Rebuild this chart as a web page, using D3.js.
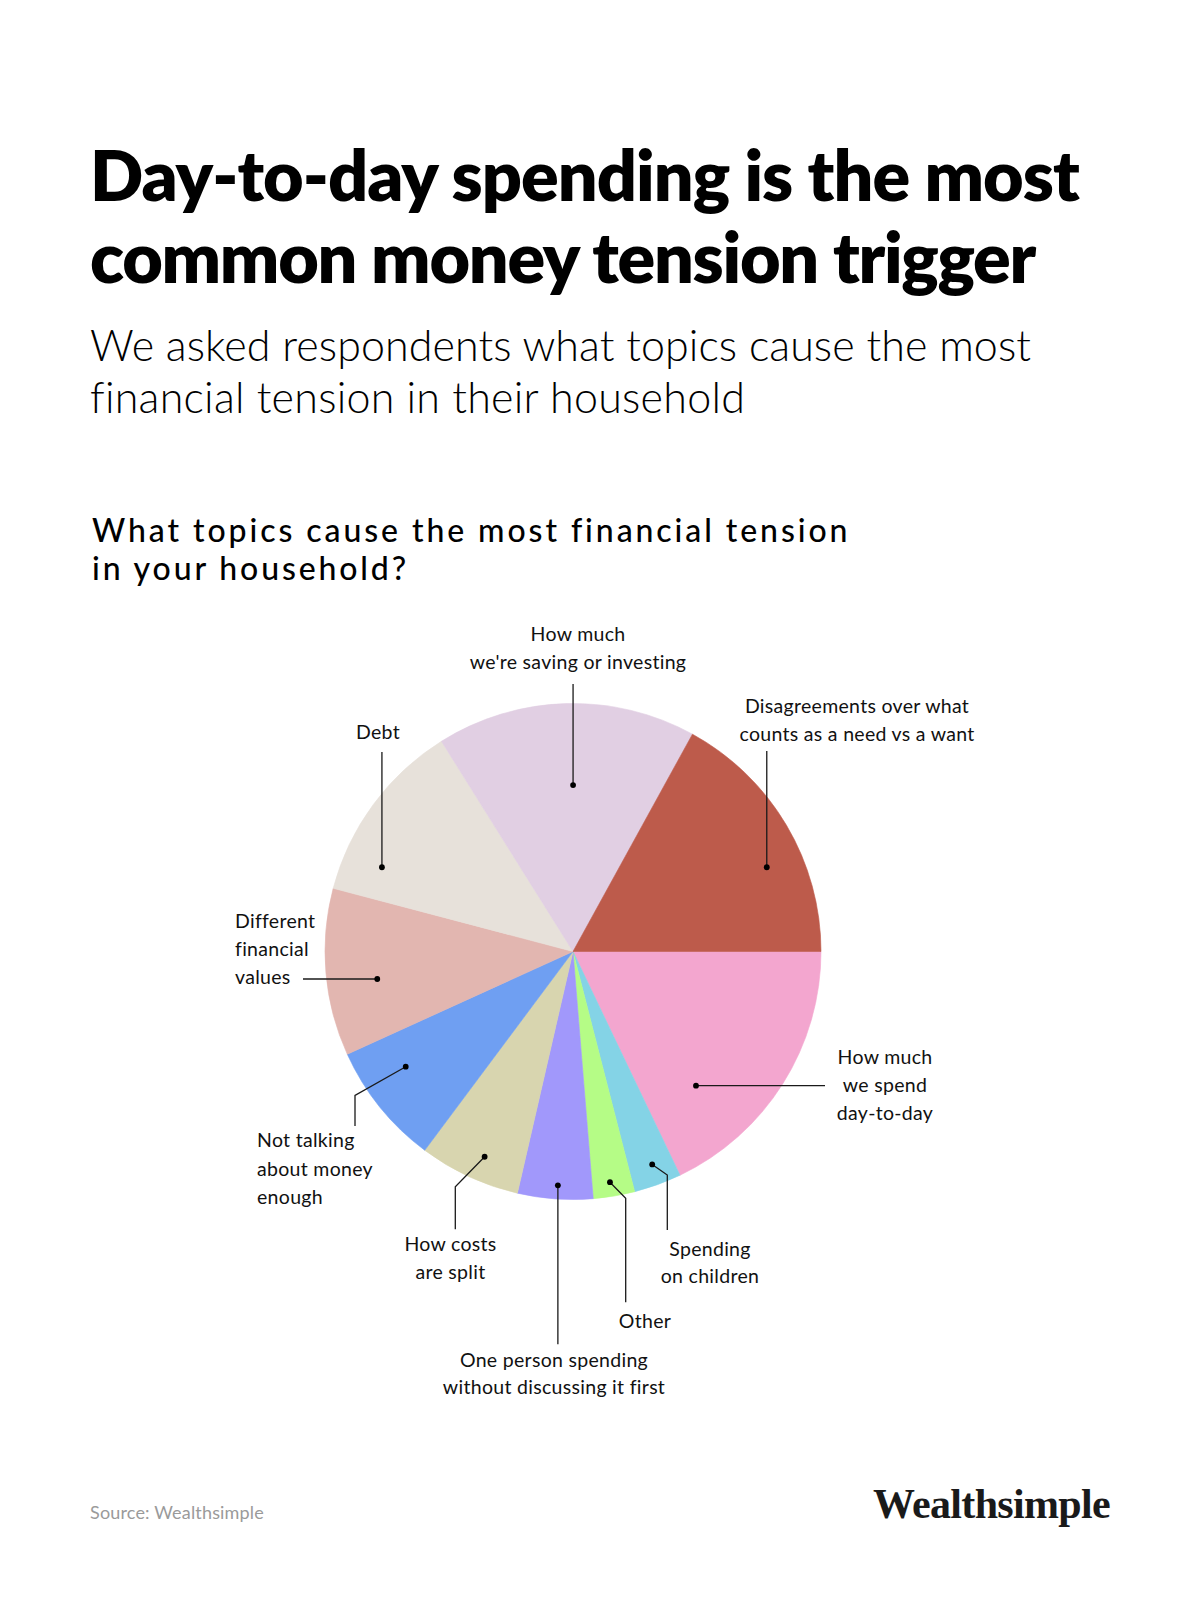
<!DOCTYPE html>
<html>
<head>
<meta charset="utf-8">
<script src="https://cdn.jsdelivr.net/npm/d3@7"></script>
<style>
  body { margin: 0; background: #fff; }
  text { font-family: Lato, "Noto Sans", sans-serif; }
  text.brand { font-family: "Liberation Serif", "DejaVu Serif", serif; }
</style>
</head>
<body>
<svg id="chart"></svg>
<script>
// ---- data (percent of respondents) ----
const categories = [
  "day", "children", "other", "onePerson", "costs",
  "notTalking", "values", "debt", "saving", "disagree"
];
const shares = [17.9, 3.1, 2.7, 4.9, 6.6, 8.0, 10.9, 12.0, 16.9, 17.0];
const labelLines = [
  ["How much", "we spend", "day-to-day"],
  ["Spending", "on children"],
  ["Other"],
  ["One person spending", "without discussing it first"],
  ["How costs", "are split"],
  ["Not talking", "about money", "enough"],
  ["Different", "financial", "values"],
  ["Debt"],
  ["How much", "we're saving or investing"],
  ["Disagreements over what", "counts as a need vs a want"]
];
const titleLines = ["Day-to-day spending is the most", "common money tension trigger"];
const subtitleLines = ["We asked respondents what topics cause the most", "financial tension in their household"];
const chartTitleLines = ["What topics cause the most financial tension", "in your household?"];
const sourceText = "Source: Wealthsimple";
const brandText = "Wealthsimple";

const palette = [
  "#f3a6cf", "#84d3e6", "#b5fc86", "#a198fb", "#d8d5af",
  "#6f9ff2", "#e2b6b0", "#e7e1da", "#e1cfe3", "#bd5b4b"
];

// ---- layout ----
const W = 1200, H = 1599;
const cx = 573, cy = 951.5, R = 248;

// where each callout dot sits inside its slice (t = fraction of the slice angle,
// rf = fraction of the radius) and how its leader runs to the label (relative to centre)
const callouts = {
  day:        { t: 0.737, rf: 0.734, route: "h", end: 252,  anchor: "middle", lx: 312,  ly: [112.5, 140.5, 168.5] },
  children:   { t: 0.462, rf: 0.916, route: "e", elbow: [94.3, 223.5], end: 278.5, anchor: "middle", lx: 137, ly: [304.5, 331.5] },
  other:      { t: 0.545, rf: 0.942, route: "e", elbow: [52.7, 246.8], end: 350.8, anchor: "middle", lx: 72, ly: [376.8] },
  onePerson:  { t: 0.475, rf: 0.945, route: "v", end: 392.8, anchor: "middle", lx: -19, ly: [415, 442.5] },
  costs:      { t: 0.435, rf: 0.901, route: "e", elbow: [-117.7, 235.2], end: 277.8, anchor: "middle", lx: -122.5, ly: [299.5, 327] },
  notTalking: { t: 0.65,  rf: 0.819, route: "e", elbow: [-218, 144], end: 174.5, anchor: "start", lx: -316, ly: [195.5, 224, 252] },
  values:     { t: 0.42,  rf: 0.797, route: "h", end: -270, anchor: "start", lx: -338, ly: [-23.5, 4.5, 32.5] },
  debt:       { t: 0.209, rf: 0.842, route: "v", end: -199.5, anchor: "middle", lx: -195, ly: [-212.5] },
  saving:     { t: 0.527, rf: 0.671, route: "v", end: -267.5, anchor: "middle", lx: 5, ly: [-310.5, -282.5] },
  disagree:   { t: 0.616, rf: 0.852, route: "v", end: -200.5, anchor: "middle", lx: 284, ly: [-238.5, -210.5] }
};

const svg = d3.select("#chart").attr("width", W).attr("height", H);
svg.append("rect").attr("width", W).attr("height", H).attr("fill", "#fff");

// stretch letter-spacing so a line covers the width it has in the reference
function fitText(sel, target) {
  sel.each(function () {
    const n = this.getNumberOfChars();
    const w = this.getComputedTextLength();
    d3.select(this).attr("letter-spacing", ((target - w) / n).toFixed(2));
  });
}

// ---- headings ----
[201, 283].forEach((y, i) => {
  svg.append("text")
    .attr("x", 90).attr("y", y)
    .attr("font-size", 70).attr("font-weight", 800).attr("fill", "#000")
    .text(titleLines[i])
    .call(fitText, i === 0 ? 989 : 945);
});

[360.7, 412.7].forEach((y, i) => {
  svg.append("text")
    .attr("x", 90).attr("y", y)
    .attr("font-size", 43).attr("font-weight", 300).attr("fill", "#000")
    .text(subtitleLines[i])
    .call(fitText, i === 0 ? 941 : 654);
});

[541.5, 580].forEach((y, i) => {
  svg.append("text")
    .attr("x", 92).attr("y", y)
    .attr("font-size", 32).attr("font-weight", 500).attr("fill", "#000")
    .text(chartTitleLines[i])
    .call(fitText, i === 0 ? 758 : 317);
});

// ---- pie ----
const rows = categories.map((key, i) => ({ key, share: shares[i], lines: labelLines[i] }));

const color = d3.scaleOrdinal().domain(categories).range(palette);

const pie = d3.pie()
  .sort(null)
  .value(d => d.share)
  .startAngle(Math.PI / 2)
  .endAngle(Math.PI / 2 + 2 * Math.PI);

const arc = d3.arc().innerRadius(0).outerRadius(R);
const arcs = pie(rows);

const pieG = svg.append("g").attr("transform", `translate(${cx},${cy})`);

pieG.selectAll("path.slice")
  .data(arcs)
  .enter()
  .append("path")
  .attr("class", "slice")
  .attr("d", arc)
  .attr("fill", d => color(d.data.key))
  .attr("stroke", d => color(d.data.key))
  .attr("stroke-width", 0.6);

function dotPos(d) {
  const c = callouts[d.data.key];
  const a = d.startAngle + c.t * (d.endAngle - d.startAngle);
  const r = c.rf * R;
  return [r * Math.sin(a), -r * Math.cos(a)];
}

function leaderPoints(d) {
  const c = callouts[d.data.key];
  const p = dotPos(d);
  if (c.route === "v") return [p, [p[0], c.end]];
  if (c.route === "h") return [p, [c.end, p[1]]];
  return [p, c.elbow, [c.elbow[0], c.end]];
}

const line = d3.line();

pieG.selectAll("path.leader")
  .data(arcs)
  .enter()
  .append("path")
  .attr("class", "leader")
  .attr("d", d => line(leaderPoints(d)))
  .attr("fill", "none")
  .attr("stroke", "#1a1a1a")
  .attr("stroke-width", 1.3);

pieG.selectAll("circle.dot")
  .data(arcs)
  .enter()
  .append("circle")
  .attr("class", "dot")
  .attr("cx", d => dotPos(d)[0])
  .attr("cy", d => dotPos(d)[1])
  .attr("r", 2.9)
  .attr("fill", "#000");

const labels = pieG.selectAll("text.label")
  .data(arcs)
  .enter()
  .append("text")
  .attr("class", "label")
  .attr("text-anchor", d => callouts[d.data.key].anchor)
  .attr("font-size", 19.5)
  .attr("letter-spacing", 0.3)
  .attr("fill", "#111");

labels.selectAll("tspan")
  .data(d => d.data.lines.map((t, i) => ({ t, x: callouts[d.data.key].lx, y: callouts[d.data.key].ly[i] })))
  .enter()
  .append("tspan")
  .attr("x", d => d.x)
  .attr("y", d => d.y)
  .text(d => d.t);

// ---- footer ----
svg.append("text")
  .attr("x", 90).attr("y", 1519)
  .attr("font-size", 18).attr("fill", "#9a9a9a")
  .text(sourceText)
  .call(fitText, 174);

svg.append("text")
  .attr("class", "brand")
  .attr("x", 873).attr("y", 1518)
  .attr("font-size", 42).attr("font-weight", 700).attr("fill", "#1a1a1a")
  .text(brandText)
  .call(fitText, 237);
</script>
</body>
</html>
